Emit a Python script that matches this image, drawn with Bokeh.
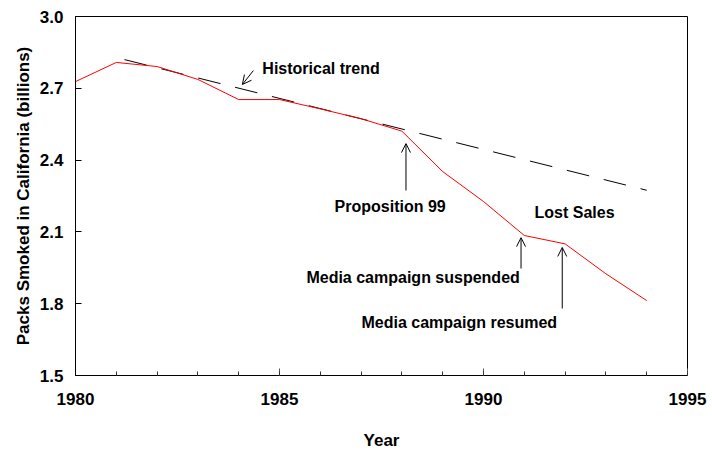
from bokeh.plotting import figure
from bokeh.models import FixedTicker, Arrow, OpenHead, ColumnDataSource, Range1d, NumeralTickFormatter
from bokeh.core.properties import value
from bokeh.embed import file_html
from bokeh.resources import INLINE

# Data
years = [1980, 1981, 1982, 1983, 1984, 1985, 1986, 1987, 1988, 1989, 1990, 1991, 1992, 1993, 1994]
packs = [2.728, 2.808, 2.791, 2.737, 2.653, 2.653, 2.614, 2.573, 2.521, 2.352, 2.227, 2.085, 2.050, 1.925, 1.813]

trend_years = [1981.2, 1994.0]
trend_packs = [2.820, 2.274]

x_ticks = [1980, 1985, 1990, 1995]
x_minor = list(range(1980, 1996))
y_ticks = [1.5, 1.8, 2.1, 2.4, 2.7, 3.0]

# Annotation texts
ann_text = ["Historical trend", "Proposition 99", "Lost Sales",
            "Media campaign suspended", "Media campaign resumed"]
ann_x = [1984.58, 1986.35, 1991.25, 1985.66, 1987.01]
ann_y = [2.783, 2.206, 2.181, 1.909, 1.721]

# Arrows (tail -> tip)
arr_x_start = [1984.36, 1988.1, 1990.92, 1991.93]
arr_y_start = [2.774, 2.273, 1.947, 1.780]
arr_x_end = [1984.09, 1988.1, 1990.92, 1991.93]
arr_y_end = [2.716, 2.469, 2.076, 2.035]

x_title = "Year"
y_title = "Packs Smoked in California (billions)"

FONT = "Liberation Sans"

p = figure(width=712, height=453, output_backend="svg", toolbar_location=None,
           x_range=Range1d(1980, 1995), y_range=Range1d(1.5, 3.0),
           min_border_left=75, min_border_right=25, min_border_top=16, min_border_bottom=78)

p.grid.visible = False
p.outline_line_color = "black"
p.outline_line_width = 1
p.background_fill_color = "white"
p.border_fill_color = "white"

p.line(trend_years, trend_packs, line_color="black", line_width=1, line_dash="23 15")
p.line(years, packs, line_color="#ff0000", line_width=1)

src = ColumnDataSource(dict(x=ann_x, y=ann_y, t=ann_text))
p.text(x="x", y="y", text="t", source=src, text_font=value(FONT), text_font_style="bold",
       text_font_size="16px", text_align="left", text_baseline="middle", text_color="black")

for xs, ys, xe, ye in zip(arr_x_start, arr_y_start, arr_x_end, arr_y_end):
    p.add_layout(Arrow(end=OpenHead(size=9, line_width=1, line_color="black"),
                       x_start=xs, y_start=ys, x_end=xe, y_end=ye,
                       line_color="black", line_width=1))

xa = p.xaxis[0]
xa.ticker = FixedTicker(ticks=x_ticks, minor_ticks=x_minor)
xa.major_tick_in = 7
xa.major_tick_out = 0
xa.minor_tick_in = 4
xa.minor_tick_out = 0
xa.axis_line_color = "black"
xa.major_tick_line_color = "#555555"
xa.minor_tick_line_color = "#333333"
xa.major_label_standoff = 17
xa.axis_label = x_title
xa.axis_label_standoff = 23

ya = p.yaxis[0]
ya.ticker = FixedTicker(ticks=y_ticks, minor_ticks=[])
ya.formatter = NumeralTickFormatter(format="0.0")
ya.major_tick_in = 6
ya.major_tick_out = 0
ya.minor_tick_in = 0
ya.minor_tick_out = 0
ya.axis_line_color = "black"
ya.major_tick_line_color = "black"
ya.major_label_standoff = 12
ya.axis_label = y_title
ya.axis_label_standoff = 4

for ax in (xa, ya):
    ax.major_label_text_font = FONT
    ax.major_label_text_font_style = "bold"
    ax.major_label_text_font_size = "17px"
    ax.major_label_text_color = "black"
    ax.axis_label_text_font = FONT
    ax.axis_label_text_font_style = "bold"
    ax.axis_label_text_font_size = "17px"
    ax.axis_label_text_color = "black"

open("out.html", "w").write(file_html(p, INLINE))
